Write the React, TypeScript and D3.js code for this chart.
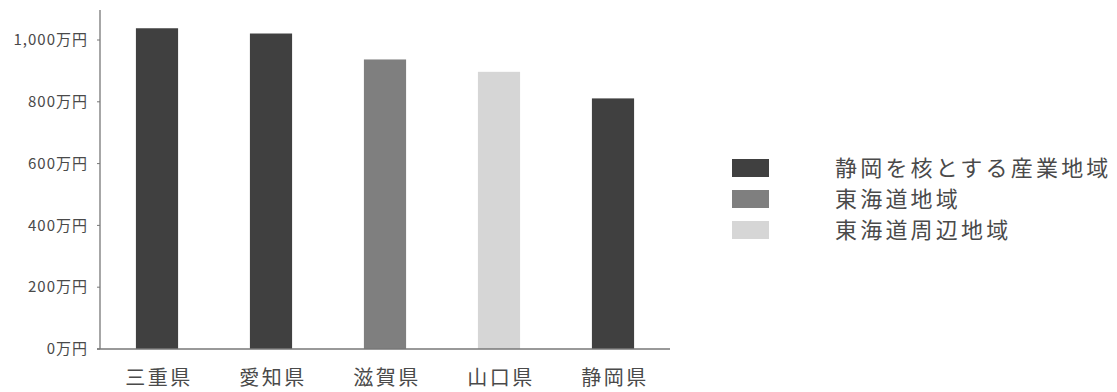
import React from "react";
import * as d3 from "d3";

const categories = ["三重県", "愛知県", "滋賀県", "山口県", "静岡県"];
const values = [1038, 1021, 937, 897, 811];
const barGroups = [0, 0, 1, 2, 0];
const legendLabels = ["静岡を核とする産業地域", "東海道地域", "東海道周辺地域"];
const legendColors = ["#404040", "#7f7f7f", "#d6d6d6"];
const yTicks = [0, 200, 400, 600, 800, 1000];

export default function App() {
  const W = 1117, H = 392;
  const x0 = 100, x1 = 670, yBase = 349, yTop = 40;
  const x = d3.scaleBand<string>().domain(categories).range([x0, x1]).paddingInner(0.63).paddingOuter(0.315);
  const y = d3.scaleLinear().domain([0, 1000]).range([yBase, yTop]);
  const fmt = d3.format(",");
  const textColor = "#4a4a4a";
  const font = "'Noto Sans CJK JP', sans-serif";
  return (
    <svg width={W} height={H} style={{ position: "absolute", left: 0, top: 0 }}>
      <rect width={W} height={H} fill="#fff" />
      {categories.map((c, i) => (
        <rect key={c} x={x(c)} y={y(values[i])} width={x.bandwidth()} height={yBase - y(values[i])}
          fill={legendColors[barGroups[i]]} />
      ))}
      <line x1={x0} x2={x0} y1={10} y2={yBase} stroke="#777" strokeWidth={1.3} />
      <line x1={x0 - 3} x2={x1} y1={yBase} y2={yBase} stroke="#777" strokeWidth={1.3} />
      {yTicks.map(t => (
        <g key={t}>
          <line x1={x0 - 3} x2={x0} y1={y(t)} y2={y(t)} stroke="#777" />
          <text x={88} y={y(t)} dy="0.35em" textAnchor="end" fontSize={15}
            fontFamily={font} fill={textColor} letterSpacing={1}>{fmt(t)}万円</text>
        </g>
      ))}
      {categories.map(c => (
        <text key={c} x={(x(c) as number) + x.bandwidth() / 2 + 2} y={378} dy="0.35em" textAnchor="middle"
          fontSize={20} fontFamily={font} fill={textColor} letterSpacing={2.5}>{c}</text>
      ))}
      {legendLabels.map((l, i) => (
        <g key={l}>
          <rect x={732} y={159 + i * 31} width={37} height={18} fill={legendColors[i]} />
          <text x={835} y={168 + i * 31} dy="0.35em" fontSize={22}
            fontFamily={font} fill={textColor} letterSpacing={3.2}>{l}</text>
        </g>
      ))}
    </svg>
  );
}
